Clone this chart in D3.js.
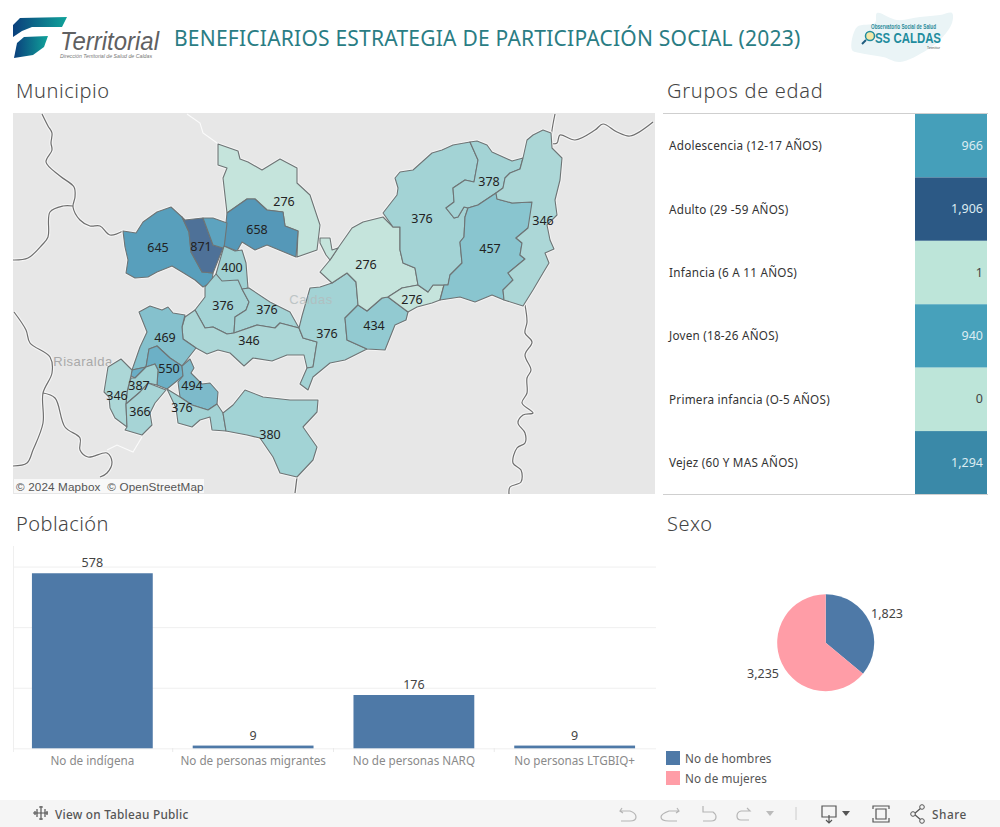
<!DOCTYPE html>
<html><head><meta charset="utf-8">
<script src="https://cdn.jsdelivr.net/npm/d3@7"></script>
<style>html,body{margin:0;padding:0;background:#fff;overflow:hidden}svg{display:block}text{font-family:"Noto Sans",sans-serif}</style>
</head><body><svg id="c" width="1000" height="827"></svg>
<script>
// ---------- data ----------
const pageTitle = "BENEFICIARIOS ESTRATEGIA DE PARTICIPACIÓN SOCIAL (2023)";
const ageGroups = ["Adolescencia (12-17 AÑOS)","Adulto (29 -59 AÑOS)","Infancia (6 A 11 AÑOS)","Joven (18-26 AÑOS)","Primera infancia (O-5 AÑOS)","Vejez (60 Y MAS AÑOS)"];
const ageValues = [966,1906,1,940,0,1294];
const populationGroups = ["No de indígena","No de personas migrantes","No de personas NARQ","No personas LTGBIQ+"];
const populationValues = [578,9,176,9];
const populationTicks = [0,200,400,600];
const sexGroups = ["No de hombres","No de mujeres"];
const sexValues = [1823,3235];
// municipality values, in the drawing order of the outlines below
const municipioValues = [276,658,645,871,620,400,376,376,346,469,550,560,387,346,366,494,376,380,376,434,276,276,376,378,457,346,276];
const municipioLabelled = [1,1,1,1,0,1,1,1,1,1,1,0,1,1,1,1,1,1,1,1,1,1,1,1,1,1,0];
// map geometry, traced in map units
const municipioRings = [
[[218,144],[238,151],[240,159],[248,162],[262,170],[280,159],[297,168],[297,183],[310,195],[320,225],[317,250],[297,257],[298,231],[285,226],[283,212],[267,210],[255,199],[247,199],[227,213],[223,178],[227,168],[218,165]],
[[227,213],[247,199],[255,199],[267,210],[283,212],[285,226],[298,231],[296,257],[267,245],[255,250],[242,242],[237,251],[224,246],[226,223]],
[[123,231],[136,233],[143,222],[157,212],[171,207],[182,217],[189,232],[191,252],[202,272],[213,273],[212,282],[203,287],[195,280],[182,272],[172,266],[157,272],[148,277],[135,278],[126,273],[128,260],[125,247]],
[[182,217],[185,220],[203,218],[213,245],[223,248],[213,273],[202,272],[191,252],[189,232]],
[[203,218],[213,218],[227,223],[224,248],[223,248],[213,245]],
[[224,246],[235,251],[242,250],[246,263],[248,288],[240,290],[238,282],[222,282],[216,274]],
[[205,287],[216,274],[222,281],[238,280],[242,289],[249,302],[246,310],[235,317],[234,333],[227,334],[213,327],[205,328],[195,310],[205,297]],
[[242,289],[249,288],[270,302],[290,312],[299,328],[280,323],[275,328],[257,325],[234,333],[235,317],[246,310],[249,302]],
[[195,310],[205,328],[213,327],[227,334],[234,333],[257,325],[275,328],[280,323],[299,328],[303,338],[317,342],[313,367],[307,368],[304,355],[287,355],[272,361],[253,358],[244,366],[230,353],[218,350],[207,354],[196,348],[183,339],[182,327],[185,317]],
[[139,312],[150,306],[162,310],[168,307],[173,313],[185,315],[182,327],[183,339],[196,348],[182,366],[170,358],[157,346],[149,349],[146,367],[132,370],[140,347],[147,332]],
[[149,349],[157,346],[170,358],[182,366],[183,376],[167,389],[157,385],[158,370],[155,364],[146,367]],
[[132,370],[146,367],[135,378],[131,376]],
[[146,367],[155,364],[158,370],[157,385],[148,383],[140,392],[126,404],[127,392],[131,378],[135,378]],
[[104,392],[108,367],[121,359],[132,370],[131,376],[127,392],[126,404],[127,427],[115,418],[110,408],[109,397]],
[[126,404],[140,392],[148,383],[166,390],[155,403],[150,413],[152,425],[142,435],[125,430],[127,427]],
[[182,366],[190,359],[194,368],[191,373],[202,384],[210,383],[218,392],[217,404],[208,410],[192,405],[180,397],[178,382],[183,376]],
[[167,389],[180,397],[192,405],[208,410],[217,404],[223,413],[226,431],[212,430],[210,417],[200,420],[192,427],[178,423],[176,408]],
[[223,413],[233,405],[245,390],[263,397],[290,400],[318,400],[317,412],[303,427],[317,447],[313,460],[297,477],[280,473],[273,457],[260,438],[247,435],[226,431]],
[[310,288],[320,287],[332,283],[347,273],[356,282],[358,305],[345,318],[347,340],[367,349],[345,360],[330,363],[313,377],[308,390],[300,384],[307,368],[313,367],[317,342],[303,338],[299,328],[302,316]],
[[345,318],[358,305],[367,311],[382,298],[388,297],[408,312],[406,320],[395,325],[385,350],[367,349],[347,340]],
[[320,272],[330,260],[338,248],[352,228],[363,222],[383,217],[393,227],[400,227],[400,250],[403,263],[415,268],[418,285],[402,288],[388,297],[382,298],[367,311],[358,305],[356,282],[347,273],[332,283]],
[[388,297],[402,288],[418,285],[428,292],[433,285],[444,285],[440,300],[432,303],[417,307],[408,312]],
[[383,213],[397,195],[398,188],[395,178],[400,172],[413,170],[432,153],[442,150],[453,145],[470,142],[478,160],[474,182],[465,180],[453,188],[454,202],[446,208],[454,218],[458,217],[464,207],[468,208],[465,217],[464,237],[460,242],[462,263],[450,275],[448,285],[433,285],[428,292],[418,285],[415,268],[403,263],[400,250],[400,227],[393,227]],
[[470,142],[477,141],[487,145],[492,152],[512,161],[523,158],[520,169],[510,173],[505,178],[503,188],[496,193],[478,205],[468,208],[464,207],[458,217],[454,218],[446,208],[454,202],[453,188],[465,180],[474,182],[478,160]],
[[496,193],[497,199],[512,203],[532,202],[532,215],[528,228],[516,238],[522,243],[520,255],[525,259],[508,273],[513,280],[503,290],[504,300],[492,295],[475,302],[460,297],[440,300],[444,285],[448,285],[450,275],[462,263],[460,242],[464,237],[465,217],[468,208],[478,205]],
[[523,158],[527,140],[533,135],[543,130],[551,133],[552,148],[562,158],[560,180],[555,200],[557,215],[547,225],[550,240],[554,249],[545,253],[549,263],[543,273],[533,290],[523,306],[504,300],[503,290],[513,280],[508,273],[525,259],[520,255],[522,243],[516,238],[528,228],[532,202],[512,203],[497,199],[496,193],[503,188],[505,178],[510,173],[520,169]],
[[320,238],[330,238],[332,250],[338,248],[330,260],[326,255],[320,243]]
];
const municipioAnchors = [[284,201],[257,229],[158,247],[201,246],[0,0],[232,267],[223,305],[267,309],[249,340],[165,337],[169,368],[0,0],[139,385],[117,395],[140,411],[192,385],[182,407],[270,434],[327,333],[374,325],[366,264],[412,299],[422,218],[489,181],[490,248],[543,220],[0,0]];
const boundaryLines = [
[[42,114],[48,126],[52,133],[51,143],[52,150],[46,162],[60,176],[74,187],[75,197],[73,207],[80,220],[90,226],[100,226],[110,235],[123,231]],
[[73,206],[63,206],[50,212],[48,237],[42,245],[28,258],[13,260]],
[[14,312],[26,330],[30,343],[50,357],[52,373],[43,393],[43,423],[33,450],[27,463],[13,466]],
[[43,393],[55,398],[65,427],[80,438],[80,450],[88,457],[107,453],[112,462],[107,473],[100,477]],
[[555,114],[552,143],[557,143],[560,135],[575,140],[595,130],[603,124],[617,132],[630,136],[653,122]],
[[525,305],[527,322],[525,333],[532,342],[525,355],[531,370],[527,378],[527,393],[522,403],[533,413],[523,415],[518,423],[525,433],[525,443],[517,448],[513,463],[521,470],[521,482],[510,487],[509,494]],
[[297,477],[295,493]]
];
const whiteLines = [[[187,114],[200,123],[203,133],[217,143]],[[142,437],[133,452],[117,445],[107,450]]];

// ---------- helpers ----------
const svg = d3.select("#c");
const T = (g,x,y,s,o={}) => {
  const t = g.append("text").attr("x",x).attr("y",y).text(s)
  .attr("font-size",o.size||12).attr("fill",o.fill||"#333").attr("text-anchor",o.anchor||"start")
  .attr("dominant-baseline","central").attr("font-weight",o.weight||400)
  .attr("letter-spacing",o.ls||0).attr("font-style",o.style||"normal")
  .attr("opacity",o.opacity||1)
  .style("font-family",o.font||null);
  if (o.fit) t.attr("textLength",o.fit).attr("lengthAdjust","spacingAndGlyphs");
  return t;
};

// ---------- logos ----------
const defs = svg.append("defs");
const grad = defs.append("linearGradient").attr("id","lg");
grad.append("stop").attr("offset","0").attr("stop-color","#0a3f7c");
grad.append("stop").attr("offset","1").attr("stop-color","#10a39a");
const logo = svg.append("g");
const ln = d3.line().curve(d3.curveCatmullRomClosed.alpha(.5));
logo.append("path").attr("fill","url(#lg)").attr("d",d3.line()([[13,37],[13,25],[20,18],[67,17],[62,27],[32,27],[22,31]])+"Z");
logo.append("path").attr("fill","url(#lg)").attr("d",d3.line()([[14,58],[17,43],[24,37],[48,36],[44,47],[33,55]])+"Z");
T(logo,60,41,"Territorial",{size:25,fill:"#5f6062",style:"italic",fit:99,font:"'Liberation Sans',sans-serif"});
T(logo,60,56,"Dirección Territorial de Salud de Caldas",{size:5.6,fill:"#777",style:"italic",fit:92,font:"'Liberation Sans',sans-serif"});
const oss = svg.append("g");
oss.append("path").attr("fill","#eaf4f6").attr("d",ln([[857,27],[875,23],[877,13],[897,20],[920,17],[940,15],[952,13],[952,23],[940,40],[927,50],[900,62],[883,57],[860,53],[852,50]]));
T(oss,871,26,"Observatorio Social de Salud",{size:6.5,fill:"#2a8a99",weight:600,fit:65,font:"'Liberation Sans',sans-serif"});
T(oss,875,37.5,"SS CALDAS",{size:14.5,fill:"#1f8c9e",weight:700,fit:66,font:"'Liberation Sans',sans-serif"});
oss.append("circle").attr("cx",870).attr("cy",36).attr("r",4.5).attr("fill","#f3e8a8").attr("stroke","#1f8c9e").attr("stroke-width",1.5);
oss.append("line").attr("x1",866).attr("y1",40).attr("x2",862).attr("y2",44).attr("stroke","#1f5c7e").attr("stroke-width",2);
T(oss,927,47,"Tecnitor",{size:3.5,fill:"#444"});

// ---------- titles ----------
T(svg,174,38,pageTitle,{size:21,fill:"#2a7d84",ls:.22,font:"'Noto Sans',sans-serif"});
[["Municipio",16,90.5,.55],["Grupos de edad",667,90.5,.7],["Población",16,523.5,.45],["Sexo",667,523.5,.7]].forEach(d=>
  T(svg,d[1],d[2],d[0],{size:20,fill:"#444",ls:d[3],weight:300,font:"'Noto Sans',sans-serif"}));

// ---------- map ----------
const map = svg.append("g");
defs.append("clipPath").attr("id","mc").append("rect").attr("x",13).attr("y",113).attr("width",642).attr("height",381);
const mapG = map.append("g").attr("clip-path","url(#mc)");
mapG.append("rect").attr("x",13).attr("y",113).attr("width",642).attr("height",381).attr("fill","#e7e7e7");
const smooth = d3.line().curve(d3.curveCatmullRom.alpha(.5));
mapG.selectAll("path.h").data(boundaryLines).join("path").attr("class","h").attr("fill","none").attr("stroke","#f6f6f6").attr("stroke-width",3.4).attr("d",smooth);
mapG.selectAll("path.b").data(boundaryLines).join("path").attr("class","b").attr("fill","none").attr("stroke","#6f6f6f").attr("stroke-width",1.2).attr("d",smooth);
mapG.selectAll("path.w").data(whiteLines).join("path").attr("class","w").attr("fill","none").attr("stroke","#fbfbfb").attr("stroke-width",1.1).attr("d",d3.line());
const mapColor = d3.scaleLinear().domain([276,346,376,400,457,494,550,645,658,871])
  .range(["#c5e4dc","#acd7d7","#a3d3d5","#9fd1d3","#89c5cf","#7dbaca","#6cb0c6","#589fbc","#5598b8","#4e7198"]).clamp(true);
T(mapG,83,361,"Risaralda",{size:13,fill:"#a9a9a9",anchor:"middle",font:"'Liberation Sans',sans-serif",ls:.5});
const feats = municipioRings.map((r,i)=>({v:municipioValues[i],a:municipioAnchors[i],l:municipioLabelled[i],r}));
mapG.selectAll("path.g").data(feats).join("path").attr("class","g")
  .attr("fill","none").attr("stroke","#f4f4f4").attr("stroke-width",3).attr("stroke-linejoin","round")
  .attr("d",d=>d3.line()(d.r)+"Z");
mapG.selectAll("path.m").data(feats).join("path").attr("class","m")
  .attr("fill",d=>mapColor(d.v)).attr("stroke","#6e7475").attr("stroke-width",1.1).attr("stroke-linejoin","round")
  .attr("d",d=>d3.line()(d.r)+"Z");
T(mapG,311,299,"Caldas",{size:13,fill:"#b3bcbd",anchor:"middle",font:"'Liberation Sans',sans-serif",ls:.5,opacity:.8});
feats.filter(d=>d.l).forEach(d=>T(mapG,d.a[0],d.a[1],d3.format(",")(d.v),{size:12.5,fill:"#222",anchor:"middle"}));
mapG.append("rect").attr("x",14).attr("y",479).attr("width",190).attr("height",14).attr("fill","#fff").attr("opacity",.7);
T(mapG,16,486,"© 2024 Mapbox\u00a0 © OpenStreetMap",{size:11.7,fill:"#555",font:"'Liberation Sans',sans-serif",ls:.14});

// ---------- age table ----------
const tbl = svg.append("g");
const rowY = d3.scaleBand().domain(ageGroups).range([114,494.5]);
const ageColor = d3.scaleLinear().domain([0,950,1294,1906]).range(["#bde5d9","#46a0bb","#3a89a8","#2c5985"]);
const cellX = d3.scaleBand().domain(["v"]).range([915,987]);
tbl.selectAll("rect").data(ageGroups).join("rect").attr("x",cellX("v")).attr("width",cellX.bandwidth())
  .attr("y",d=>rowY(d)).attr("height",rowY.bandwidth()).attr("fill",(d,i)=>ageColor(ageValues[i]));
ageGroups.forEach((g,i)=>{
  const y=rowY(g)+rowY.bandwidth()/2-.5;
  T(tbl,669,y,g,{size:11.7,fill:"#333",ls:.24});
  T(tbl,983,y,d3.format(",")(ageValues[i]),{size:12.5,fill:ageValues[i]>500?"#dcecf2":"#444",anchor:"end"});
});
tbl.append("line").attr("x1",663).attr("x2",988).attr("y1",113.5).attr("y2",113.5).attr("stroke","#cfcfcf");
tbl.append("line").attr("x1",663).attr("x2",988).attr("y1",494.5).attr("y2",494.5).attr("stroke","#cfcfcf");

// ---------- bars ----------
const bars = svg.append("g");
const bx = d3.scaleBand().domain(populationGroups).range([12,655]).paddingInner(.2485).paddingOuter(.124);
const by = d3.scaleLinear().domain([0,668]).range([748.3,546]);
const yAxis = d3.axisLeft(by).tickValues(populationTicks).tickSize(-643).tickFormat("");
const yg = bars.append("g").attr("transform","translate(13,0)").call(yAxis);
yg.selectAll(".tick line").attr("stroke","#efefef");
yg.select(".domain").attr("stroke","#efefef").attr("d","M0.5,546V752");
const xAxis = d3.axisBottom(bx).tickSize(0).tickPadding(8.5);
const xg = bars.append("g").attr("transform","translate(0,748.5)").call(xAxis);
xg.select(".domain").remove();
xg.selectAll("text").attr("font-size",11.7).attr("fill","#8a8a8a").style("font-family","'Noto Sans',sans-serif");
const step = bx.step();
bars.selectAll("line.sep").data(populationGroups.slice(1)).join("line").attr("class","sep")
  .attr("x1",d=>bx(d)-(step-bx.bandwidth())/2).attr("x2",d=>bx(d)-(step-bx.bandwidth())/2)
  .attr("y1",748).attr("y2",752).attr("stroke","#eaeaea");
bars.selectAll("rect").data(populationGroups).join("rect").attr("x",d=>bx(d)).attr("width",bx.bandwidth())
  .attr("y",(d,i)=>by(populationValues[i])).attr("height",(d,i)=>by(0)-by(populationValues[i])).attr("fill","#4e79a7");
populationGroups.forEach((g,i)=>T(bars,bx(g)+bx.bandwidth()/2,by(populationValues[i])-10.5,populationValues[i],{size:12.5,fill:"#444",anchor:"middle"}));

// ---------- pie ----------
const sexColor = d3.scaleOrdinal().domain(sexGroups).range(["#4e79a7","#ff9da7"]);
const pieG = svg.append("g").attr("transform","translate(825.7,642.7)");
const arcs = d3.pie().sort(null)(sexValues);
pieG.selectAll("path").data(arcs).join("path").attr("d",d3.arc().innerRadius(0).outerRadius(48.5)).attr("fill",(d,i)=>sexColor(sexGroups[i]));
T(svg,887,613.5,"1,823",{size:12.5,fill:"#444",anchor:"middle"});
T(svg,763,673.5,"3,235",{size:12.5,fill:"#444",anchor:"middle"});
const legY = d3.scalePoint().domain(sexGroups).range([758,778]);
sexGroups.forEach(g=>{
  svg.append("rect").attr("x",666).attr("y",legY(g)-7).attr("width",14).attr("height",14).attr("fill",sexColor(g));
  T(svg,685,legY(g),g,{size:11.7,fill:"#555",ls:.12});
});

// ---------- footer ----------
const f = svg.append("g");
f.append("rect").attr("y",800).attr("width",1000).attr("height",27).attr("fill","#f5f5f5");
const ic = {fill:"none",stroke:"#b5b5b5","stroke-width":1.2};
const P = (d,o=ic)=>{const p=f.append("path").attr("d",d);Object.entries(o).forEach(([k,v])=>p.attr(k,v));return p;};
const dk={fill:"none",stroke:"#555","stroke-width":1.2};
P("M41,806V820M34,813H48M37,809V817M45,809V817M35,811V815M47,811V815M39,807H43M39,819H43M33,813H35",dk);
T(f,55,813.5,"View on Tableau Public",{size:11.8,fill:"#555",weight:500,ls:.24});
P("M622,808L620,811L623,813M620,811H630Q636,813 636,817Q636,821 630,821H621");
P("M677,808L679,811L676,813M679,811H669Q661,814 661,817Q661,821 669,821H677");
P("M703,806V812H713Q716,814 716,817Q716,821 711,821H703");
P("M741,811H750L747,808M741,811Q737,812 737,816Q737,820 741,820H749");
f.append("path").attr("d","M766,811H774L770,816Z").attr("fill","#bbb");
P("M796,807V820",{fill:"none",stroke:"#ccc","stroke-width":1});
P("M822,806H836V817H822ZM829,815V823M826,820L829,823L832,820",dk);
f.append("path").attr("d","M842,811H850L846,816Z").attr("fill","#555");
P("M873,809V806H889V809M873,818V822H889V818M876,809H886V819H876Z",dk);
P("M914,814L921,808M914,814L921,820",dk);
[[913,814],[922,807],[922,821]].forEach(c=>f.append("circle").attr("cx",c[0]).attr("cy",c[1]).attr("r",2.3).attr("fill","#f5f5f5").attr("stroke","#555"));
T(f,932,813.5,"Share",{size:11.8,fill:"#555",weight:500,ls:.5});
</script></body></html>
